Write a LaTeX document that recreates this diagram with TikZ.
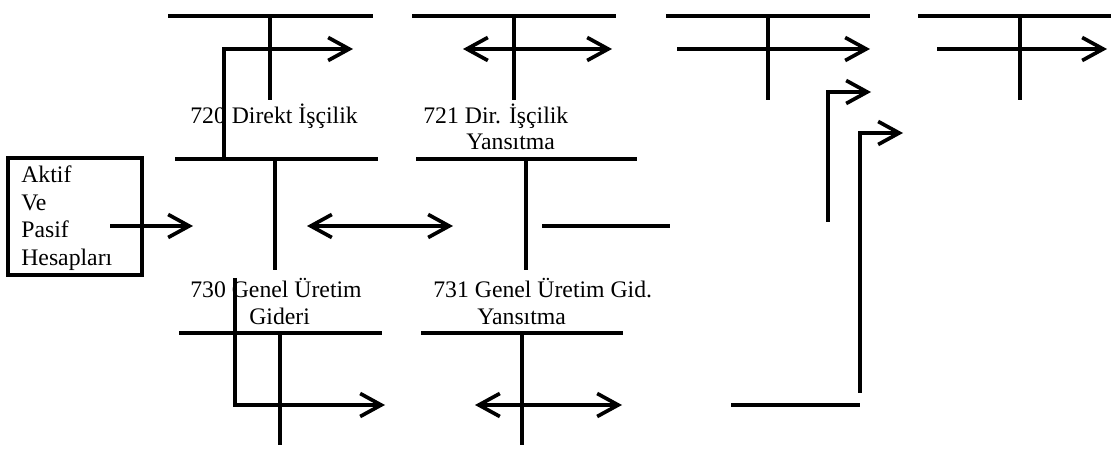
\documentclass[tikz,border=0pt]{standalone}
\usepackage{fontspec}
\setmainfont{Liberation Serif}
\usetikzlibrary{arrows.meta}

\begin{document}
\begin{tikzpicture}[x=0.2mm, y=-0.2mm,
    >={Straight Barb[length=4.2mm,width=4.6mm]},   %Pfeilspitzen
    konto/.style={line width=2.4pt},
    pfeil/.style={line width=2.1pt, line join=miter},
    beschr/.style={anchor=base west, inner sep=0pt, font=\fontsize{13.5pt}{15.7pt}\selectfont}]
    % Bildbereich
    \useasboundingbox (0,0) rectangle (1111,460);
    % T-Konten oben
    \foreach \x/\l in {168/205, 412/204, 666/204, 918/193}
        {\draw[konto] (\x,16) -- ++(\l,0); \draw[pfeil] (\x+102,16) -- ++(0,84);}
    % T-Konten Mitte
    \foreach \x/\l/\m in {175/203/100, 416/221/110}
        {\draw[konto] (\x,159) -- ++(\l,0); \draw[pfeil] (\x+\m,159) -- ++(0,111);}
    % T-Konten unten
    \foreach \x/\l/\m in {179/203/101, 421/202/101}
        {\draw[konto] (\x,333) -- ++(\l,0); \draw[pfeil] (\x+\m,333) -- ++(0,112);}
    % Beschriftungen
    \node[beschr] (k720) at (190,124) {720 Direkt İşçilik};
    \node[beschr] (k721) at (423,124) {721 Dir. İşçilik};
    \node[beschr] (k721b) at (466,150) {Yansıtma};
    \node[beschr] (k730) at (190,298) {730 Genel Üretim};
    \node[beschr] (k730b) at (249,325) {Gideri};
    \node[beschr] (k731) at (433,298) {731 Genel Üretim Gid.};
    \node[beschr] (k731b) at (477,325) {Yansıtma};
    % Kasten links
    \node[draw, line width=2.1pt, minimum width=26.8mm, minimum height=23.4mm, inner sep=0pt] (kasten) at (75,216.5) {};
    \node[beschr] (aktif) at (21,183) {Aktif};
    \node[beschr] (ve) at (21,211) {Ve};
    \node[beschr] (pasif) at (21,238) {Pasif};
    \node[beschr] (hesap) at (21,266) {Hesapları};
    % Endpunkte der Pfeile
    \coordinate (p1a) at (224,159); \coordinate (p1b) at (224,49); \coordinate (p1c) at (353,49);
    \coordinate (p2a) at (463,49);  \coordinate (p2b) at (612,49);
    \coordinate (p3a) at (677,49);  \coordinate (p3b) at (870,49);
    \coordinate (p4a) at (937,49);  \coordinate (p4b) at (1107,49);
    \coordinate (p5a) at (110,226); \coordinate (p5b) at (193,226);
    \coordinate (p6a) at (307,226); \coordinate (p6b) at (453,226);
    \coordinate (p7a) at (542,226); \coordinate (p7b) at (670,226);
    \coordinate (p8a) at (235,278); \coordinate (p8b) at (235,405); \coordinate (p8c) at (385,405);
    \coordinate (p9a) at (475,405); \coordinate (p9b) at (622,405);
    \coordinate (q1a) at (828,222); \coordinate (q1b) at (828,92);  \coordinate (q1c) at (871,92);
    \coordinate (q2a) at (731,405); \coordinate (q2b) at (860,405);
    \coordinate (q3a) at (860,393); \coordinate (q3b) at (860,133); \coordinate (q3c) at (903,133);
    % Pfeile
    \draw[pfeil,->] (p1a) -- (p1b) -- (p1c);
    \draw[pfeil,<->] (p2a) -- (p2b);
    \draw[pfeil,->] (p3a) -- (p3b);
    \draw[pfeil,->] (p4a) -- (p4b);
    \draw[pfeil,->] (p5a) -- (p5b);
    \draw[pfeil,<->] (p6a) -- (p6b);
    \draw[pfeil] (p7a) -- (p7b);
    \draw[pfeil,->] (p8a) -- (p8b) -- (p8c);
    \draw[pfeil,<->] (p9a) -- (p9b);
    \draw[pfeil,->] (q1a) -- (q1b) -- (q1c);
    \draw[pfeil] (q2a) -- (q2b);
    \draw[pfeil,->] (q3a) -- (q3b) -- (q3c);
\end{tikzpicture}
\end{document}
